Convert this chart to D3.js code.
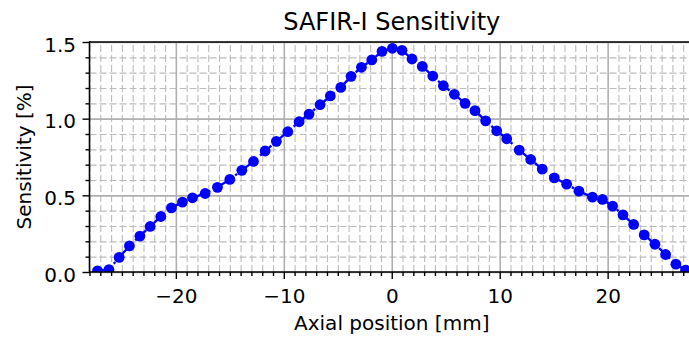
<!DOCTYPE html>
<html>
<head>
<meta charset="utf-8">
<script src="https://cdn.jsdelivr.net/npm/d3@7"></script>
<style>
	body { margin: 0; background: #fff; }
	text { font-family: "DejaVu Sans", sans-serif; fill: #000; }
</style>
</head>
<body>
<script>
// axial positions [mm] and sensitivity [%]
var positions = [-27.26, -26.20, -25.25, -24.30, -23.33, -22.38, -21.39, -20.41, -19.39, -18.46,
	-17.29, -16.15, -15.00, -13.89, -12.81, -11.73, -10.69, -9.63, -8.58, -7.66,
	-6.64, -5.69, -4.72, -3.77, -2.81, -1.85, -0.90, 0.06, 0.95, 1.88,
	2.83, 3.80, 4.78, 5.80, 6.79, 7.71, 8.70, 9.72, 10.65, 11.81,
	12.87, 13.94, 15.06, 16.20, 17.34, 18.59, 19.52, 20.46, 21.42, 22.41,
	23.39, 24.38, 25.37, 26.32, 27.22];
var sensitivity = [0.007, 0.016, 0.095, 0.170, 0.234, 0.297, 0.362, 0.418, 0.456, 0.484,
	0.512, 0.552, 0.604, 0.663, 0.721, 0.789, 0.852, 0.915, 0.980, 1.030,
	1.091, 1.148, 1.204, 1.276, 1.335, 1.383, 1.439, 1.459, 1.446, 1.389,
	1.341, 1.278, 1.215, 1.159, 1.100, 1.052, 0.986, 0.921, 0.869, 0.795,
	0.734, 0.671, 0.614, 0.573, 0.527, 0.488, 0.473, 0.430, 0.373, 0.310,
	0.242, 0.181, 0.114, 0.051, 0.012];

var xMajorTicks = [-20, -10, 0, 10, 20];
var yMajorTicks = [0, 0.5, 1.0, 1.5];
var xDomain = [-28, 28];
var yDomain = [0, 1.5];

var chartTitle = 'SAFIR-I Sensitivity',
	xLabel = 'Axial position [mm]',
	yLabel = 'Sensitivity [%]';

var width = 689, height = 341;
var plot = { left: 89.5, right: 694, top: 42, bottom: 272 };

// minor ticks every 1 mm and every 0.1 %
var xMinorTicks = d3.range(-28, 28.01, 1).filter(function (v) { return xMajorTicks.indexOf(v) < 0; });
var yMinorTicks = d3.range(1, 15).map(function (v) { return v / 10; })
	.filter(function (v) { return v % 0.5 > 0.01 && v % 0.5 < 0.49; });

var x = d3.scaleLinear().domain(xDomain).range([plot.left, plot.right]);
var y = d3.scaleLinear().domain(yDomain).range([plot.bottom, plot.top]);

var svg = d3.select('body').append('svg')
	.attr('width', width)
	.attr('height', height);

svg.append('rect').attr('width', width).attr('height', height).attr('fill', '#fff');

svg.append('defs').append('clipPath').attr('id', 'plotClip')
	.append('rect')
	.attr('x', plot.left).attr('y', plot.top)
	.attr('width', plot.right - plot.left).attr('height', plot.bottom - plot.top);

var plotH = plot.bottom - plot.top,
	plotW = plot.right - plot.left;

// minor grid (dashed)
var minorGrid = svg.append('g').attr('class', 'minor-grid');
minorGrid.append('g')
	.attr('transform', 'translate(0,' + plot.bottom + ')')
	.call(d3.axisBottom(x).tickValues(xMinorTicks).tickSize(-plotH).tickFormat(''));
minorGrid.append('g')
	.attr('transform', 'translate(' + plot.left + ',0)')
	.call(d3.axisLeft(y).tickValues(yMinorTicks).tickSize(-plotW).tickFormat(''));
minorGrid.selectAll('.domain').remove();
minorGrid.selectAll('line')
	.attr('stroke', '#bcbcbc')
	.attr('stroke-width', 1.1)
	.attr('stroke-dasharray', '7,3');

// major grid (solid)
var majorGrid = svg.append('g').attr('class', 'major-grid');
majorGrid.append('g')
	.attr('transform', 'translate(0,' + plot.bottom + ')')
	.call(d3.axisBottom(x).tickValues(xMajorTicks).tickSize(-plotH).tickFormat(''));
majorGrid.append('g')
	.attr('transform', 'translate(' + plot.left + ',0)')
	.call(d3.axisLeft(y).tickValues(yMajorTicks).tickSize(-plotW).tickFormat(''));
majorGrid.selectAll('.domain').remove();
majorGrid.selectAll('line')
	.attr('stroke', '#b0b0b0')
	.attr('stroke-width', 1.6);

// data: dash-dot line with round markers
var data = positions.map(function (p, i) { return { x: p, y: sensitivity[i] }; });
var series = svg.append('g').attr('clip-path', 'url(#plotClip)');

series.append('path')
	.datum(data)
	.attr('fill', 'none')
	.attr('stroke', '#0000ff')
	.attr('stroke-width', 2.4)
	.attr('stroke-dasharray', '15,4,2.4,4')
	.attr('d', d3.line().x(function (d) { return x(d.x); }).y(function (d) { return y(d.y); }));

series.selectAll('.point').data(data).enter().append('circle')
	.attr('class', 'point')
	.attr('cx', function (d) { return x(d.x); })
	.attr('cy', function (d) { return y(d.y); })
	.attr('r', 5.4)
	.attr('fill', '#0000ff');

// axes: minor ticks then major ticks with labels
function styleAxis(g) {
	g.selectAll('.domain').remove();
	g.selectAll('line').attr('stroke', '#000').attr('stroke-width', 1.4);
	g.selectAll('text').attr('font-size', 20).attr('font-family', '"DejaVu Sans", sans-serif');
}

svg.append('g')
	.attr('transform', 'translate(0,' + plot.bottom + ')')
	.call(d3.axisBottom(x).tickValues(xMinorTicks).tickSize(4).tickFormat(''))
	.call(styleAxis);
svg.append('g')
	.attr('transform', 'translate(' + plot.left + ',0)')
	.call(d3.axisLeft(y).tickValues(yMinorTicks).tickSize(4).tickFormat(''))
	.call(styleAxis);

var xAxis = svg.append('g')
	.attr('transform', 'translate(0,' + plot.bottom + ')')
	.call(d3.axisBottom(x).tickValues(xMajorTicks).tickSize(7).tickFormat(d3.format('d')))
	.call(styleAxis);
xAxis.selectAll('text').attr('y', 30.5).attr('dy', 0);

var yAxis = svg.append('g')
	.attr('transform', 'translate(' + plot.left + ',0)')
	.call(d3.axisLeft(y).tickValues(yMajorTicks).tickSize(7).tickFormat(d3.format('.1f')))
	.call(styleAxis);
yAxis.selectAll('text').attr('x', -13.5).attr('y', 9.2).attr('dy', 0);

// spines
var spines = svg.append('g').attr('stroke', '#000').attr('stroke-width', 1.6);
spines.append('line').attr('x1', plot.left).attr('x2', plot.left).attr('y1', plot.top - 0.8).attr('y2', plot.bottom + 0.8);
spines.append('line').attr('x1', plot.left).attr('x2', plot.right).attr('y1', plot.bottom).attr('y2', plot.bottom);
spines.append('line').attr('x1', plot.left).attr('x2', plot.right).attr('y1', plot.top).attr('y2', plot.top);
spines.append('line').attr('x1', plot.right).attr('x2', plot.right).attr('y1', plot.top).attr('y2', plot.bottom);

// titles
var midX = (plot.left + plot.right) / 2;
svg.append('text')
	.attr('x', midX).attr('y', 30)
	.attr('text-anchor', 'middle')
	.attr('font-size', 24)
	.text(chartTitle);

svg.append('text')
	.attr('x', midX).attr('y', 330)
	.attr('text-anchor', 'middle')
	.attr('font-size', 20)
	.text(xLabel);

svg.append('text')
	.attr('transform', 'translate(31,' + ((plot.top + plot.bottom) / 2) + ') rotate(-90)')
	.attr('text-anchor', 'middle')
	.attr('font-size', 20)
	.text(yLabel);
</script>
</body>
</html>
